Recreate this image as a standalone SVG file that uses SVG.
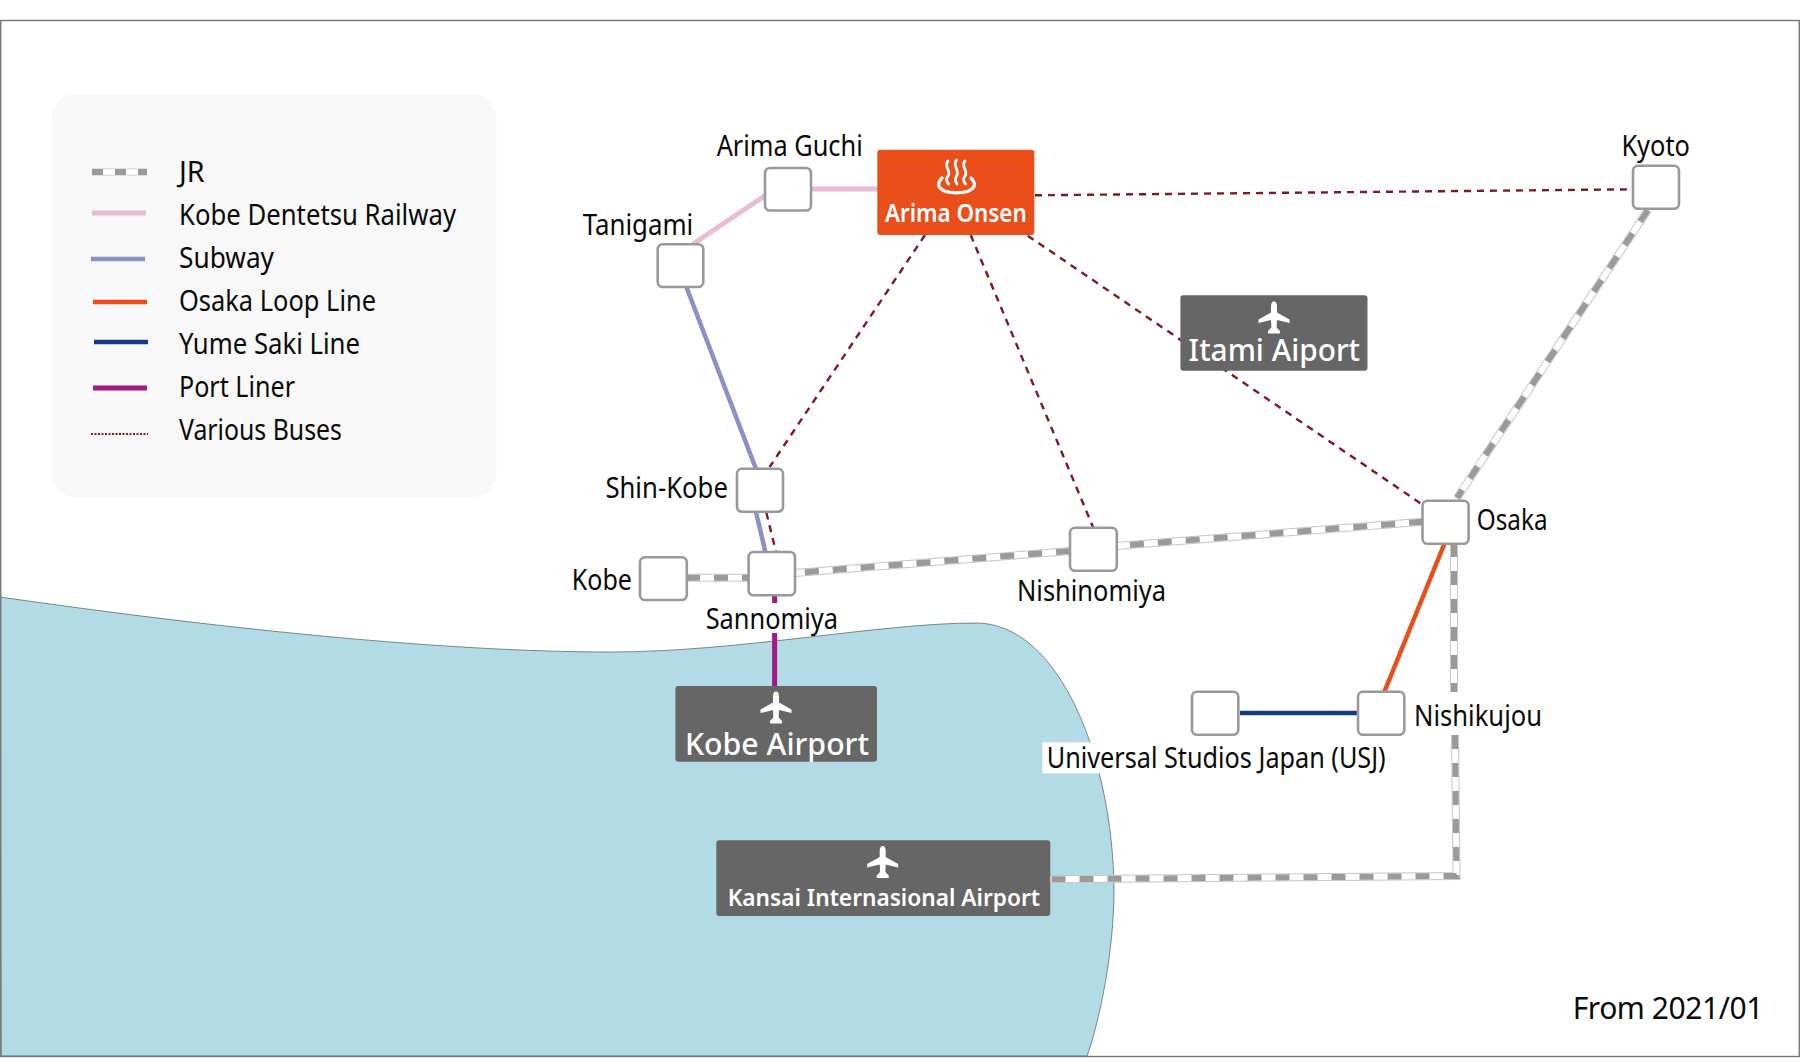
<svg xmlns="http://www.w3.org/2000/svg" width="1800" height="1063" viewBox="0 0 1800 1063">
<style>
text{font-family:"Noto Sans","Open Sans","Liberation Sans",sans-serif;fill:#0a0a0a;font-size:29.5px}
.w{fill:#fff;font-weight:500}
.st{fill:#fff;stroke:#999;stroke-width:2.6}
.ap{fill:#666}
.jrc{fill:none;stroke:#c6c6c6;stroke-width:8}
.jrw{fill:none;stroke:#fff;stroke-width:6}
.jrd{fill:none;stroke:#9a9a9a;stroke-width:6;stroke-dasharray:14 14}
.bus{fill:none;stroke:#7d1a24;stroke-width:2.4;stroke-dasharray:7 6}
.pink{stroke:#e9bcd4;stroke-width:5;fill:none}
.sub{stroke:#8b90c6;stroke-width:4.5;fill:none}
.loop{stroke:#e94e1b;stroke-width:4.5;fill:none}
.yume{stroke:#153b86;stroke-width:4.5;fill:none}
.port{stroke:#a51a82;stroke-width:5;fill:none}
.onsen{fill:none;stroke:#fff;stroke-width:2.8;stroke-linecap:round}
</style>
<defs>
<path id="plane" fill="#fff" d="M0 0C1.8 0 3 2 3 4.500V11L15.500 18V21.500L3 18.500L2.600 26L6 29.500V32H-6V29.500L-2.600 26L-3 18.500L-15.500 21.500V18L-3 11V4.500C-3 2-1.800 0 0 0Z"/>
</defs>
<rect width="1800" height="1063" fill="#fff"/>
<path id="sea" d="M0 597C230 630 450 652 610 652C740 652 880 623 976 623C1060 623 1113 760 1114 890C1114 950 1100 1020 1087 1056L1 1056Z" fill="#b2dbe5" stroke="#4a5a60" stroke-width=".7"/>
<rect id="frame" x=".75" y="20.500" width="1798.500" height="1036" fill="none" stroke="#777" stroke-width="1.400"/>
<g id="legend">
<rect x="51.700" y="94" width="444.700" height="403" rx="24" fill="#f8f8f8"/>
<path class="jrc" style="stroke-width:7" d="M92 172H147"/>
<path class="jrw" style="stroke-width:5.500" d="M92 172H147"/>
<path class="jrd" style="stroke-width:6;stroke-dasharray:11 12" d="M92 172H147"/>
<path class="pink" d="M92 213H146"/>
<path class="sub" d="M91 259H145"/>
<path class="loop" d="M93 302H147"/>
<path class="yume" d="M94 342H148"/>
<path class="port" d="M93 388H147"/>
<path d="M91 434H148" fill="none" stroke="#7d1a24" stroke-width="2" stroke-dasharray="2 1.500"/>
<text x="179" y="181.500" textLength="25.600" lengthAdjust="spacingAndGlyphs">JR</text>
<text x="179" y="224.500" textLength="277" lengthAdjust="spacingAndGlyphs">Kobe Dentetsu Railway</text>
<text x="179" y="267.500" textLength="95" lengthAdjust="spacingAndGlyphs">Subway</text>
<text x="179" y="310.500" textLength="197" lengthAdjust="spacingAndGlyphs">Osaka Loop Line</text>
<text x="179" y="353.500" textLength="181" lengthAdjust="spacingAndGlyphs">Yume Saki Line</text>
<text x="179" y="396.500" textLength="116" lengthAdjust="spacingAndGlyphs">Port Liner</text>
<text x="179" y="439.500" textLength="163" lengthAdjust="spacingAndGlyphs">Various Buses</text>
</g>
<g id="connectors">
<path class="pink" d="M693 244L766 195M810 189H878"/>
<path class="sub" d="M686 286L756 469M755.700 511L765.400 552"/>
<path class="port" d="M774.600 595V603M774.600 633V687"/>
<path class="loop" d="M1444.700 543L1384.300 692"/>
<path class="yume" d="M1240 713H1358"/>
<g id="jr">
<path class="jrc" d="M686 577.700H749M795 573L1070 551M1116 546L1423 521.700M1648 210L1457 498M1454 543V692M1455 735L1456.500 876L1050 879.300"/>
<path class="jrw" d="M686 577.700H749M795 573L1070 551M1116 546L1423 521.700M1648 210L1457 498M1454 543V692M1455 735L1456.500 876L1050 879.300"/>
<path class="jrd" d="M686 577.700H749"/>
<path class="jrd" d="M1070 551L795 573"/>
<path class="jrd" d="M1423 521.700L1116 546"/>
<path class="jrd" d="M1648 210L1457 498"/>
<path class="jrd" d="M1454 543V692"/>
<path class="jrd" d="M1455 735L1456.500 876L1050 879.300"/>
</g>
<g id="buses">
<path class="bus" d="M1035 195.300L1633 189.300"/>
<path class="bus" d="M925 235L769.600 467"/>
<path class="bus" d="M766.400 512.700L776 552"/>
<path class="bus" d="M970.700 235L1093 527"/>
<path class="bus" d="M1027.700 235.700L1423 505"/>
</g>
</g>
<g id="arima-guchi"><rect class="st" x="765" y="168" width="46" height="42.500" rx="5"/><text x="716.700" y="155.500" textLength="146" lengthAdjust="spacingAndGlyphs">Arima Guchi</text></g>
<g id="tanigami"><rect class="st" x="657.700" y="244.300" width="45.600" height="42.700" rx="5"/><text x="582.700" y="235" textLength="110.600" lengthAdjust="spacingAndGlyphs">Tanigami</text></g>
<g id="arima-onsen"><rect x="877.300" y="149.700" width="157" height="85.300" rx="3" fill="#e94e1b"/>
<path class="onsen" d="M948 161C943 167 952 171 948 176C945.500 179 946.500 181 948.500 184M956.500 160C951.500 166 960.500 170 956.500 176C954.500 179 955 181 957 184M965 161C960 167 969 171 965 176C962.500 179 963.500 181 965.500 184"/>
<path class="onsen" style="stroke-width:3.200" d="M942 178C934 186 941 192.800 956.500 192.800C972 192.800 979 186 971 178"/>
<text class="w" x="885" y="221.700" style="font-size:24.500px;font-weight:600" textLength="141.700" lengthAdjust="spacingAndGlyphs">Arima Onsen</text></g>
<g id="shin-kobe"><rect class="st" x="737" y="468.700" width="46" height="43" rx="5"/><text x="605.400" y="498" textLength="122.500" lengthAdjust="spacingAndGlyphs">Shin-Kobe</text></g>
<g id="kobe"><rect class="st" x="640" y="557.300" width="46.800" height="42.700" rx="5"/><text x="571.800" y="589.500" textLength="60.200" lengthAdjust="spacingAndGlyphs">Kobe</text></g>
<g id="sannomiya"><rect class="st" x="748.600" y="552" width="46.400" height="43.300" rx="5"/><text x="705.700" y="628.500" textLength="132.200" lengthAdjust="spacingAndGlyphs">Sannomiya</text></g>
<g id="nishinomiya"><rect class="st" x="1070" y="527.700" width="46.800" height="43" rx="5"/><text x="1017" y="601" textLength="149" lengthAdjust="spacingAndGlyphs">Nishinomiya</text></g>
<g id="osaka"><rect class="st" x="1422.500" y="500.700" width="46.100" height="43" rx="5"/><text x="1476.800" y="530.300" textLength="70.700" lengthAdjust="spacingAndGlyphs">Osaka</text></g>
<g id="kyoto"><rect class="st" x="1633" y="165.700" width="46" height="43" rx="5"/><text x="1621.400" y="155.500" textLength="68.600" lengthAdjust="spacingAndGlyphs">Kyoto</text></g>
<g id="nishikujou"><rect class="st" x="1358" y="691.700" width="46.300" height="43" rx="5"/><text x="1414" y="725.500" textLength="128" lengthAdjust="spacingAndGlyphs">Nishikujou</text></g>
<g id="usj"><rect class="st" x="1192" y="691.700" width="46.300" height="43" rx="5"/><rect x="1042.300" y="742.300" width="345" height="31" fill="#fff"/><text x="1046.700" y="768.300" textLength="339" lengthAdjust="spacingAndGlyphs">Universal Studios Japan (USJ)</text></g>
<g id="itami-airport"><rect class="ap" x="1180.400" y="295.300" width="187.100" height="75.400" rx="3"/><use href="#plane" x="1274" y="301.500"/><text class="w" style="font-size:31px" x="1188.600" y="361" textLength="171.400" lengthAdjust="spacingAndGlyphs">Itami Aiport</text></g>
<g id="kobe-airport"><rect class="ap" x="675.400" y="686" width="201.600" height="75.700" rx="3"/><use href="#plane" x="776" y="691.500"/><text class="w" style="font-size:31px" x="685" y="755.300" textLength="184" lengthAdjust="spacingAndGlyphs">Kobe Airport</text></g>
<g id="kansai-airport"><rect class="ap" x="716.300" y="840.300" width="334" height="75.700" rx="3"/><use href="#plane" x="882.700" y="846"/><text class="w" style="font-size:24px;font-weight:600" x="727.700" y="906" textLength="312.300" lengthAdjust="spacingAndGlyphs">Kansai Internasional Airport</text></g>
<text id="date" x="1572.700" y="1019.300" style="font-size:30px" textLength="190.600" lengthAdjust="spacing">From 2021/01</text>
</svg>
